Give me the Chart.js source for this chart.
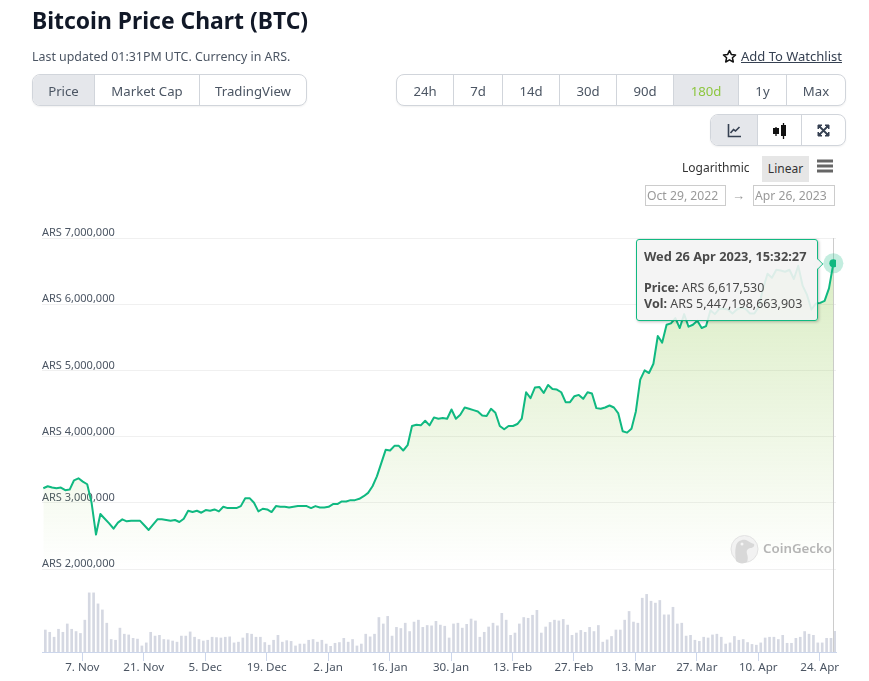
<!DOCTYPE html>
<html>
<head>
<meta charset="utf-8">
<script src="https://cdn.jsdelivr.net/npm/chart.js@4"></script>
<style>
html,body{margin:0;padding:0;background:#fff;width:869px;height:681px;overflow:hidden;font-family:"Noto Sans",sans-serif;color:#364152}
.a{position:absolute;white-space:nowrap}
#c{position:absolute;left:0;top:0}
.group{position:absolute;display:flex;box-sizing:border-box;border:1px solid #d1d5db;border-radius:8px;overflow:hidden;box-shadow:0 1px 2px rgba(0,0,0,.06);background:#fff}
.group div{box-sizing:border-box;border-right:1px solid #d1d5db;display:flex;align-items:center;justify-content:center;font-size:13.2px;color:#4b5563;flex:none;padding-top:1px}
.group div:last-child{border-right:none}
.group .on{background:#e5e7eb}
.date{position:absolute;box-sizing:border-box;border:1px solid #ccc;font-size:12.2px;color:#999;line-height:19px;padding-left:1px;height:21px}
#tip{position:absolute;left:636px;top:239px;width:182px;height:82px;box-sizing:border-box;background:rgba(243,243,243,.9);border:1px solid #10b981;border-radius:3px;box-shadow:1px 1px 3px rgba(0,0,0,.25);font-size:12.5px;color:#4a4a4a;z-index:3;line-height:16px}
#tip b{font-weight:700}
#arrow{position:absolute;left:812px;top:258px;width:12px;height:12px;background:#f3f3f3;border-top:1px solid #10b981;border-right:1px solid #10b981;transform:rotate(45deg) scale(.62);z-index:4;box-sizing:border-box}
</style>
</head>
<body>
<canvas id="c" width="869" height="681"></canvas>

<div class="a" style="left:32px;top:6px;font-size:22.9px;font-weight:700;color:#111827;line-height:30px">Bitcoin Price Chart (BTC)</div>
<div class="a" style="left:32px;top:48px;font-size:12.4px;color:#4b5563;line-height:18px">Last updated 01:31PM UTC. Currency in ARS.</div>

<svg class="a" style="left:722px;top:49px" width="15" height="15" viewBox="0 0 24 24"><path d="M12 2.5l2.9 6.2 6.8.8-5 4.6 1.4 6.7-6.1-3.4-6.1 3.4 1.4-6.7-5-4.6 6.8-.8z" fill="none" stroke="#111" stroke-width="2.4" stroke-linejoin="round"/></svg>
<div class="a" style="left:741px;top:47px;font-size:13px;color:#364152;line-height:18px;text-decoration:underline">Add To Watchlist</div>

<div class="group" style="left:32px;top:74px;width:275px;height:32px">
  <div class="on" style="width:62px">Price</div><div style="width:105px">Market Cap</div><div style="width:106px">TradingView</div>
</div>
<div class="group" style="left:396px;top:74px;width:450px;height:32px">
  <div style="width:57px">24h</div><div style="width:49px">7d</div><div style="width:57px">14d</div><div style="width:57px">30d</div><div style="width:57px">90d</div><div class="on" style="width:65px;color:#8dc63f">180d</div><div style="width:48px">1y</div><div style="width:58px">Max</div>
</div>
<div class="group" style="left:710px;top:114px;width:136px;height:32px">
  <div class="on" style="width:47px"><svg width="15" height="15" viewBox="0 0 15 15"><path d="M1.5 1v12.5H14" fill="none" stroke="#364152" stroke-width="1.6"/><path d="M3.5 10l3-3.5 2 1.5 4-4" fill="none" stroke="#364152" stroke-width="1.6"/></svg></div>
  <div style="width:44px"><svg width="16" height="18" viewBox="0 0 16 18"><path d="M4 5v9M11.500 1v16" stroke="#111" stroke-width="1.3"/><rect x="1" y="6" width="6" height="6" fill="#111"/><rect x="9" y="3" width="5" height="11" fill="#111"/></svg></div>
  <div style="width:43px"><svg width="13" height="13" viewBox="0 0 13 13"><path d="M1 1h4L1 5zM12 1v4L8 1zM1 12V8l4 4zM12 12H8l4-4z" fill="#364152" stroke="#364152"/><path d="M2 2l9 9M11 2l-9 9" stroke="#364152" stroke-width="1.8"/></svg></div>
</div>

<div class="a" style="left:682px;top:159px;font-size:12px;color:#333;line-height:18px">Logarithmic</div>
<div class="a" style="left:762px;top:156px;width:47px;height:26px;background:#e6e6e6;font-size:12px;color:#333;line-height:25px;text-align:center">Linear</div>
<svg class="a" style="left:816px;top:159px" width="18" height="15"><path d="M1 2h16M1 7h16M1 12h16" stroke="#666" stroke-width="3"/></svg>

<div class="date" style="left:645px;top:185px;width:81px">Oct 29, 2022</div>
<div class="a" style="left:732px;top:186px;font-size:13px;color:#999;line-height:18px">→</div>
<div class="date" style="left:753px;top:185px;width:82px">Apr 26, 2023</div>

<svg class="a" style="left:730px;top:534px;z-index:1" width="30" height="30" viewBox="0 0 30 30"><circle cx="14.500" cy="15" r="13.500" fill="#f2f2f2" stroke="#e2e2e2"/><path d="M6 27c-1-6-1-11 0-15 1-5 6-7 10-6 3 1 4 3 8 4 1 2-1 4-4 4-3 1-4 3-3 6 1 3 1 5 0 8-3 2-8 2-11-1z" fill="#d8d8d8"/><circle cx="12" cy="10" r="1.500" fill="#f5f5f5"/></svg>
<div class="a" style="left:763px;top:538px;font-size:13.3px;font-weight:600;color:#b5b5b5;line-height:20px;z-index:1">CoinGecko</div>

<div id="arrow"></div>
<div id="tip">
  <div class="a" style="left:7px;top:8px;font-size:12.8px"><b>Wed 26 Apr 2023, 15:32:27</b></div>
  <div class="a" style="left:7px;top:40px"><b>Price:</b> ARS 6,617,530</div>
  <div class="a" style="left:7px;top:56px"><b>Vol:</b> ARS 5,447,198,663,903</div>
</div>

<script>
// Daily BTC price in ARS (millions), first point 29 Oct 2022, last point 26 Apr 2023
const priceMillions = [
3.22,3.25,3.23,3.22,3.23,3.19,3.20,3.34,3.37,3.32,3.28,3.00,2.52,2.83,2.76,2.69,2.61,2.70,2.75,2.72,
2.73,2.73,2.73,2.66,2.59,2.67,2.75,2.75,2.74,2.73,2.74,2.71,2.76,2.88,2.86,2.88,2.85,2.89,2.88,2.90,
2.87,2.94,2.92,2.92,2.92,2.95,3.07,3.07,3.00,2.87,2.91,2.90,2.86,2.95,2.94,2.94,2.93,2.94,2.95,2.95,
2.95,2.92,2.95,2.93,2.93,2.94,2.98,2.98,3.02,3.02,3.04,3.04,3.06,3.10,3.15,3.25,3.40,3.60,3.80,3.79,
3.86,3.86,3.79,3.87,4.16,4.18,4.17,4.24,4.17,4.29,4.27,4.28,4.27,4.41,4.27,4.33,4.44,4.42,4.40,4.38,
4.32,4.31,4.42,4.36,4.16,4.11,4.16,4.16,4.19,4.27,4.67,4.58,4.74,4.75,4.66,4.78,4.72,4.71,4.67,4.52,
4.52,4.61,4.63,4.57,4.67,4.65,4.43,4.42,4.44,4.47,4.44,4.35,4.08,4.06,4.12,4.38,4.86,5.00,4.96,5.10,
5.52,5.42,5.69,5.71,5.79,5.64,5.85,5.66,5.69,5.75,5.64,5.67,5.91,5.85,5.93,5.93,5.92,5.86,5.92,5.95,
5.93,5.86,5.86,5.96,6.24,6.46,6.40,6.52,6.51,6.49,6.52,6.38,6.58,6.28,6.14,5.92,6.01,6.02,6.05,6.24,
6.61753];
// Daily volume in ARS (trillions)
const volumeTrillions = [
5.8,5.2,3.9,6.0,5.2,7.4,6.0,5.4,4.9,8.4,15.6,15.6,12.7,11.1,7.6,3.3,3.1,6.3,4.7,4.5,
3.6,3.4,1.6,2.4,5.2,4.2,4.4,3.3,3.2,2.9,2.6,4.2,4.2,5.3,3.9,3.3,2.9,3.1,3.9,3.8,
3.7,3.9,4.0,2.4,2.6,3.7,4.9,4.7,3.9,3.9,2.5,1.8,3.1,4.4,2.6,3.0,2.8,1.6,2.1,2.1,
3.1,3.3,2.6,3.1,2.1,1.5,2.3,2.5,3.6,2.6,3.3,1.6,2.1,4.7,4.0,4.7,9.1,7.4,9.4,4.2,
6.5,6.2,7.6,5.4,7.9,8.4,6.5,7.0,6.9,8.1,7.1,6.8,3.7,7.4,7.6,6.3,7.3,8.7,8.2,3.9,
5.2,6.6,7.6,6.9,10.2,8.4,4.4,5.0,7.4,9.1,8.9,9.7,11.0,5.0,6.6,7.8,8.4,8.2,8.6,7.1,
4.4,5.0,5.7,5.2,6.5,5.4,7.0,2.6,3.2,4.1,5.8,5.8,8.4,10.7,7.9,7.6,14.2,15.2,13.4,12.9,
13.6,9.8,9.8,11.8,7.4,7.6,4.2,4.4,3.1,2.8,3.9,3.7,4.5,4.7,3.9,2.1,2.4,4.1,3.1,3.3,
2.5,2.0,1.8,2.4,3.7,3.9,3.9,3.3,4.4,2.3,2.3,3.6,3.9,5.4,4.7,4.4,2.4,2.4,3.6,3.6,
5.447];
const xTickLabels = ["7. Nov","21. Nov","5. Dec","19. Dec","2. Jan","16. Jan","30. Jan","13. Feb","27. Feb","13. Mar","27. Mar","10. Apr","24. Apr"];
const xTickDays = [8.89,22.89,36.89,50.89,64.89,78.89,92.89,106.89,120.89,134.89,148.89,162.89,176.89];
const yTickValues = [2000000,3000000,4000000,5000000,6000000,7000000];

const lineColor = '#10b981';
const xMin = -0.3, xMax = 180.6, barShift = 0.23;
const lastDay = priceMillions.length - 1;
const lastPrice = priceMillions[lastDay] * 1e6;

const crosshair = {
  id: 'crosshair',
  beforeDatasetsDraw(chart) {
    const x = Math.round(chart.scales.x.getPixelForValue(lastDay)) + 0.5;
    const c = chart.ctx;
    c.save();
    c.strokeStyle = '#cccccc';
    c.lineWidth = 1;
    c.beginPath();
    c.moveTo(x, chart.chartArea.top);
    c.lineTo(x, chart.chartArea.bottom);
    c.stroke();
    c.restore();
  }
};

new Chart(document.getElementById('c'), {
  type: 'line',
  plugins: [crosshair],
  data: {
    datasets: [
      {
        type: 'line', order: 0, yAxisID: 'y', xAxisID: 'x', clip: false,
        data: [{ x: lastDay, y: lastPrice }],
        showLine: false, pointRadius: 10, pointHoverRadius: 10, pointBorderWidth: 0,
        pointBackgroundColor: 'rgba(16,185,129,.25)'
      },
      {
        type: 'line', order: 1, yAxisID: 'y', xAxisID: 'x',
        data: priceMillions.map((v, i) => ({ x: i, y: v * 1e6 })),
        borderColor: lineColor, borderWidth: 2, tension: 0,
        borderJoinStyle: 'round',
        pointRadius: c => c.dataIndex === lastDay ? 4 : 0,
        pointBackgroundColor: lineColor, pointBorderWidth: 0,
        fill: { value: 2000000 },
        backgroundColor: c => {
          const ch = c.chart;
          if (!ch.chartArea) return 'rgba(140,195,75,.2)';
          const y = ch.scales.y;
          const g = ch.ctx.createLinearGradient(0, y.getPixelForValue(6700000), 0, y.bottom);
          g.addColorStop(0, 'rgba(140,198,70,.32)');
          g.addColorStop(1, 'rgba(140,198,70,0)');
          return g;
        }
      },
      {
        type: 'bar', order: 2, yAxisID: 'yVol', xAxisID: 'xVol',
        data: volumeTrillions.map((v, i) => ({ x: i, y: v * 1e12 })),
        backgroundColor: '#d5d8e2', barThickness: 2, borderWidth: 0
      }
    ]
  },
  options: {
    responsive: false,
    animation: false,
    devicePixelRatio: 1,
    events: [],
    layout: { padding: { left: 42, right: 33, top: 238, bottom: 0 } },
    plugins: { legend: { display: false }, tooltip: { enabled: false } },
    scales: {
      x: {
        type: 'linear', position: 'bottom', min: xMin, max: xMax, offset: false,
        afterBuildTicks: s => { s.ticks = xTickDays.map(v => ({ value: v })); },
        afterFit: s => { s.height = 29; },
        grid: { drawOnChartArea: false, drawTicks: true, tickLength: 9, color: '#ccd6eb', lineWidth: 1, offset: false },
        border: { color: '#ccd6eb', width: 1 },
        ticks: {
          autoSkip: false, maxRotation: 0, padding: 0,
          color: '#4b5563', font: { family: '"Noto Sans"', size: 11.6 },
          callback: (v, i) => xTickLabels[i]
        }
      },
      xVol: {
        type: 'linear', position: 'bottom', display: false, offset: false,
        min: xMin - barShift, max: xMax - barShift
      },
      yVol: {
        type: 'linear', position: 'left', stack: 'main', stackWeight: 83,
        min: 0, max: 21.9e12,
        grid: { display: false, drawTicks: false },
        border: { display: false },
        ticks: { display: false }
      },
      y: {
        type: 'linear', position: 'left', stack: 'main', stackWeight: 331,
        min: 2000000, max: 7000000,
        afterBuildTicks: s => { s.ticks = yTickValues.map(v => ({ value: v })); },
        grid: { color: '#f0f0f0', lineWidth: 1, drawTicks: false },
        border: { display: false },
        ticks: {
          mirror: true, padding: 0, labelOffset: -5,
          color: '#4b5563', font: { family: '"Noto Sans"', size: 11 },
          callback: v => 'ARS ' + Number(v).toLocaleString('en-US')
        }
      }
    }
  }
});
</script>
</body>
</html>
